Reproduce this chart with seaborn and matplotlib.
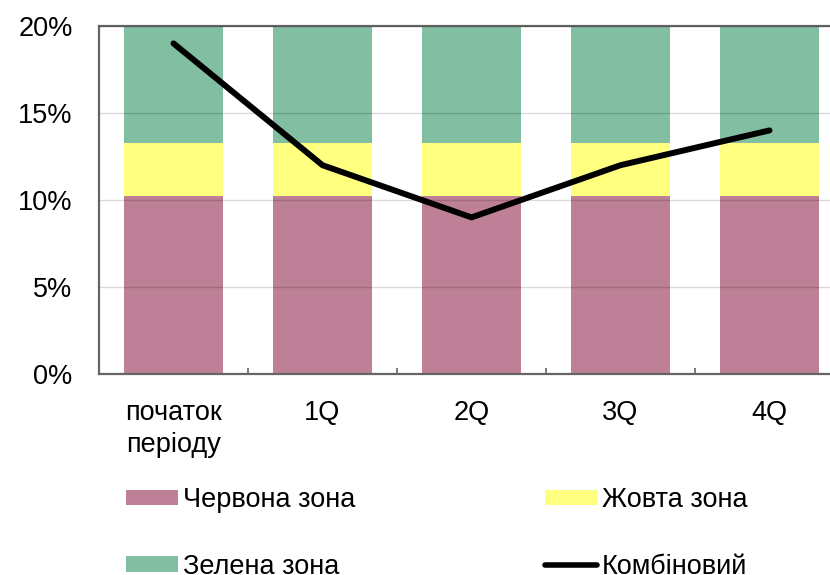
import numpy as np
import matplotlib
matplotlib.use("Agg")
import matplotlib.pyplot as plt
import seaborn as sns
from matplotlib.patches import Patch
from matplotlib.lines import Line2D
from matplotlib.ticker import FixedLocator, FuncFormatter

# Categories and series values (percent)
categories = ["початок\nперіоду", "1Q", "2Q", "3Q", "4Q"]
red_zone = [10.25, 10.25, 10.25, 10.25, 10.25]
yellow_zone = [3.0, 3.0, 3.0, 3.0, 3.0]
green_zone = [6.75, 6.75, 6.75, 6.75, 6.75]
combined = [19, 12, 9, 12, 14]
y_ticks = [0, 5, 10, 15, 20]

legend_labels = ["Червона зона", "Жовта зона", "Зелена зона", "Комбіновий"]
col_red = "#BE8096"
col_yellow = "#FFFF80"
col_green = "#82BEA2"
spine_col = "#666666"

sns.set_theme(style="white")
plt.rcParams["font.family"] = ["Liberation Sans", "DejaVu Sans"]
FS = 19.5

fig = plt.figure(figsize=(8.3, 5.75), dpi=100)
ax = fig.add_axes([99 / 830, 1 - 374 / 575, 745 / 830, 348 / 575])

# Stacked bars: draw cumulative tops back-to-front
top_red = np.array(red_zone)
top_yellow = top_red + np.array(yellow_zone)
top_green = top_yellow + np.array(green_zone)
for tops, col in [(top_green, col_green), (top_yellow, col_yellow), (top_red, col_red)]:
    sns.barplot(x=categories, y=tops, color=col, saturation=1, width=0.66,
                ax=ax, linewidth=0, order=categories)

# Combined indicator line
xpos = np.arange(len(categories))
sns.lineplot(x=xpos, y=combined, color="black", linewidth=4.3, ax=ax,
             sort=False, zorder=4, solid_capstyle="round", solid_joinstyle="round")

ax.set_xlim(-0.5, len(categories) - 0.5)
ax.set_ylim(0, 20)
ax.set_xlabel("")
ax.set_ylabel("")

ax.yaxis.set_major_locator(FixedLocator(y_ticks))
ax.yaxis.set_major_formatter(FuncFormatter(lambda v, p: f"{v:.0f}%"))
ax.set_axisbelow(False)
ax.grid(axis="y", color="black", alpha=0.15, linewidth=1.0, zorder=2.5)
ax.grid(axis="x", visible=False)

ax.set_xticks(xpos)
ax.set_xticklabels(categories, fontsize=FS, color="black", linespacing=1.3)
ax.set_xticks(np.arange(len(categories) - 1) + 0.5, minor=True)
ax.tick_params(axis="x", which="major", length=0, pad=18.5)
ax.tick_params(axis="x", which="minor", direction="in", length=4.5, width=1.2,
               color=spine_col, bottom=True)
ax.tick_params(axis="y", length=0, pad=19, labelsize=FS, labelcolor="black")

for side in ["left", "bottom", "top", "right"]:
    ax.spines[side].set_visible(True)
    ax.spines[side].set_color(spine_col)
    ax.spines[side].set_linewidth(1.6)

# Legend in two columns below the plot
h_red = Patch(facecolor=col_red, edgecolor="none")
h_yellow = Patch(facecolor=col_yellow, edgecolor="none")
h_green = Patch(facecolor=col_green, edgecolor="none")
h_line = Line2D([], [], color="black", linewidth=4.0, solid_capstyle="round")

common = dict(frameon=False, fontsize=FS, borderpad=0, borderaxespad=0,
              handlelength=1.92, handleheight=0.5, handletextpad=0.18,
              labelspacing=1.5, loc="upper left", labelcolor="black")
fig.legend([h_red, h_green], [legend_labels[0], legend_labels[2]],
           bbox_to_anchor=(126 / 830, 1 - 487 / 575), **common)
fig.legend([h_yellow, h_line], [legend_labels[1], legend_labels[3]],
           bbox_to_anchor=(545 / 830, 1 - 487 / 575), **common)

fig.savefig("out.png", dpi=100)
